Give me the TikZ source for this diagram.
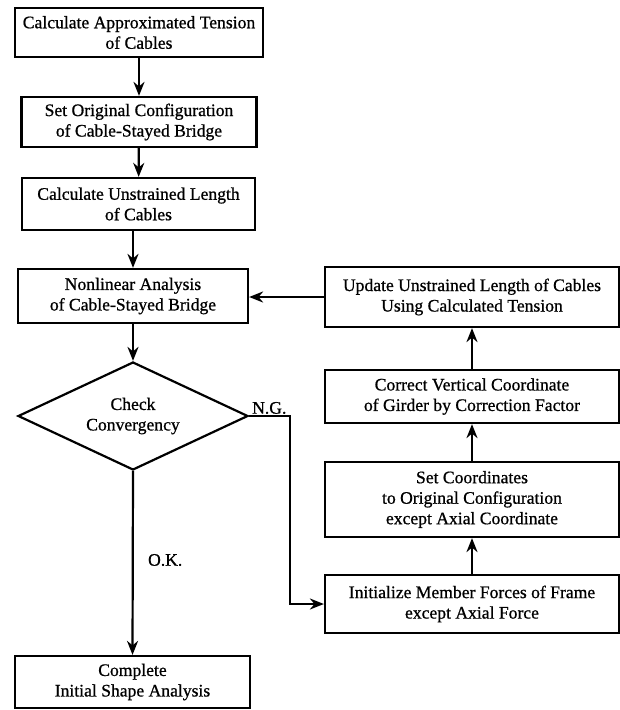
\documentclass[tikz,border=0pt]{standalone}
\usepackage{fontspec}
\setmainfont{Liberation Serif}[FakeBold=0.8]
\usetikzlibrary{shapes.geometric,arrows.meta}

\tikzset{every picture/.style={line width=2.2pt}}
\tikzset{
	flowbox/.style={draw, rectangle, align=center, inner sep=1pt, font=\fontsize{17.6}{20.5}\selectfont},
	decision/.style={draw, diamond, aspect=2.13, align=center, inner sep=0pt, minimum width=230pt, minimum height=108pt, font=\fontsize{17.6}{20.5}\selectfont},
	flowarrow/.style={-{Stealth[length=14pt,width=11pt,inset=4.5pt]}},
	branchlabel/.style={inner sep=1pt, font=\fontsize{17.6}{20.5}\selectfont}
}

\begin{document}
\begin{tikzpicture}[x=1pt,y=1pt,yscale=-1,xscale=1]
	%set diagram size: 620 x 710
	\useasboundingbox (0,0) rectangle (620,710);
	
	%Shape: Rectangle [left column]
	\node[flowbox, minimum width=248pt, minimum height=49pt] (approx) at (139,32.5) {Calculate Approximated Tension\\of Cables};
	%Shape: Rectangle
	\node[flowbox, minimum width=235pt, minimum height=50pt] (orig) at (139,122) {Set Original Configuration\\of Cable-Stayed Bridge};
	%Shape: Rectangle
	\node[flowbox, minimum width=233pt, minimum height=52pt] (unstr) at (138.5,204) {Calculate Unstrained Length\\of Cables};
	%Shape: Rectangle
	\node[flowbox, minimum width=230pt, minimum height=54pt] (nonlin) at (133,296) {Nonlinear Analysis\\of Cable-Stayed Bridge};
	%Shape: Diamond
	\node[decision] (conv) at (133,416) {Check\\Convergency};
	%Shape: Rectangle
	\node[flowbox, minimum width=235pt, minimum height=52pt] (done) at (132.5,682) {Complete\\Initial Shape Analysis};
	
	%Shape: Rectangle [right column]
	\node[flowbox, minimum width=294pt, minimum height=60pt] (update) at (472,297) {Update Unstrained Length of Cables\\Using Calculated Tension};
	%Shape: Rectangle
	\node[flowbox, minimum width=294pt, minimum height=53pt] (girder) at (472,396.5) {Correct Vertical Coordinate\\of Girder by Correction Factor};
	%Shape: Rectangle
	\node[flowbox, minimum width=294pt, minimum height=75pt] (setcoord) at (472,499.5) {Set Coordinates\\to Original Configuration\\except Axial Coordinate};
	%Shape: Rectangle
	\node[flowbox, minimum width=294pt, minimum height=58pt] (initf) at (472,604) {Initialize Member Forces of Frame\\except Axial Force};
	
	% Text Node
	\node[branchlabel, anchor=south west] (ng) at ([xshift=1pt]conv.east) {N.G.};
	% Text Node
	\node[branchlabel, anchor=west] (ok) at (146,560) {O.K.};
	
	\coordinate (ngturn) at (290,416);
	
	% Connection
	\draw[flowarrow] (approx) -- (orig);
	% Connection
	\draw[flowarrow] (orig) -- (unstr);
	% Connection
	\draw[flowarrow] (nonlin.north |- unstr.south) -- (nonlin.north);
	% Connection
	\draw[flowarrow] (nonlin) -- (conv);
	% Connection
	\draw[flowarrow] (conv.south) -- (done.north);
	% Connection
	\draw[flowarrow] (conv.east) -- (ngturn) |- (initf.west);
	% Connection
	\draw[flowarrow] (initf) -- (setcoord);
	% Connection
	\draw[flowarrow] (setcoord) -- (girder);
	% Connection
	\draw[flowarrow] (girder) -- (update);
	% Connection
	\draw[flowarrow] (update.west) -- (update.west -| nonlin.east);
	
\end{tikzpicture}
\end{document}
